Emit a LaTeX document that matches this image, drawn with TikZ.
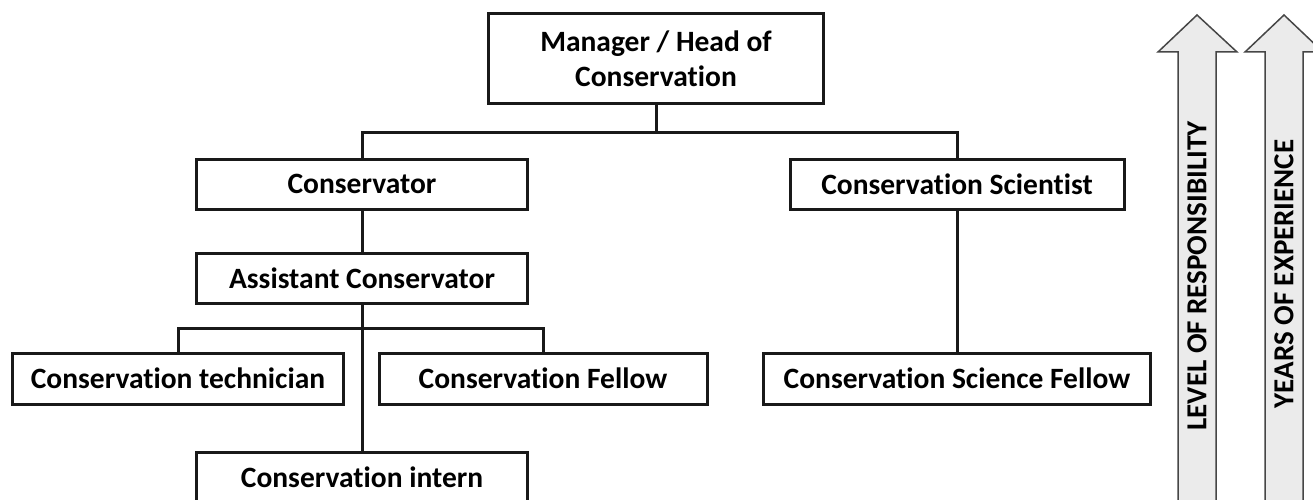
\documentclass[tikz,border=0pt]{standalone}
\usepackage{fontspec}
\setmainfont{Carlito}[Ligatures={NoCommon,NoContextual}]
\definecolor{arrowfill}{RGB}{235,235,235}
\definecolor{arrowedge}{RGB}{70,70,70}
\definecolor{boxedge}{RGB}{25,25,25}
\usetikzlibrary{positioning}

\begin{document}
\begin{tikzpicture}[x=1pt, y=-1pt,
    rolebox/.style={draw=boxedge, line width=3pt, fill=white, align=center,
                    inner sep=0pt, minimum height=50pt,
                    font=\fontsize{29.5}{35}\selectfont\bfseries},
    link/.style={draw=boxedge, line width=3pt},
    scalearrow/.style={draw=arrowedge, line width=1.5pt, fill=arrowfill},
    scaletext/.style={rotate=90, font=\fontsize{29}{34}\selectfont\bfseries}]
  \useasboundingbox (0,0) rectangle (1313,500);

  % roles
  \node[rolebox, minimum width=335pt, minimum height=90pt] (manager) at (656,59)
    {Manager / Head of\\Conservation};
  \node[rolebox, minimum width=331pt] (conservator) at (362,184) {Conservator};
  \node[rolebox, minimum width=334pt] (scientist) at (957,184) {Conservation Scientist};
  \node[rolebox, minimum width=331pt] (assistant) at (362,278) {Assistant Conservator};
  \node[rolebox, minimum width=331pt, minimum height=51pt] (technician) at (178,378.5)
    {Conservation technician};
  \node[rolebox, minimum width=328pt, minimum height=51pt] (fellow) at (543,378.5)
    {Conservation Fellow};
  \node[rolebox, minimum width=387pt, minimum height=51pt] (sciencefellow) at (957,378.5)
    {Conservation Science Fellow};
  \node[rolebox, minimum width=331pt] (intern) at (362,477) {Conservation intern};

  % connectors
  \coordinate (topsplit) at (656,132);
  \coordinate (assistsplit) at (362,328);
  \draw[link] (manager.south) -- (topsplit);
  \draw[link] (conservator.north) |- (topsplit) -| (scientist.north);
  \draw[link] (conservator.south) -- (assistant.north);
  \draw[link] (scientist.south) -- (sciencefellow.north);
  \draw[link] (assistant.south) -- (intern.north);
  \draw[link] (technician.north) |- (assistsplit) -| (fellow.north);

  % scales on the right
  \draw[scalearrow] (1178,520) -- (1178,52) -- (1158,52) -- (1197,15)
    -- (1237,52) -- (1216,52) -- (1216,520) -- cycle;
  \draw[scalearrow] (1265,520) -- (1265,52) -- (1245,52) -- (1284,15)
    -- (1323,52) -- (1303,52) -- (1303,520) -- cycle;
  \node[scaletext] (responsibility) at (1197,276) {LEVEL OF RESPONSIBILITY};
  \node[scaletext] (experience) at (1284,274) {YEARS OF EXPERIENCE};
\end{tikzpicture}
\end{document}
